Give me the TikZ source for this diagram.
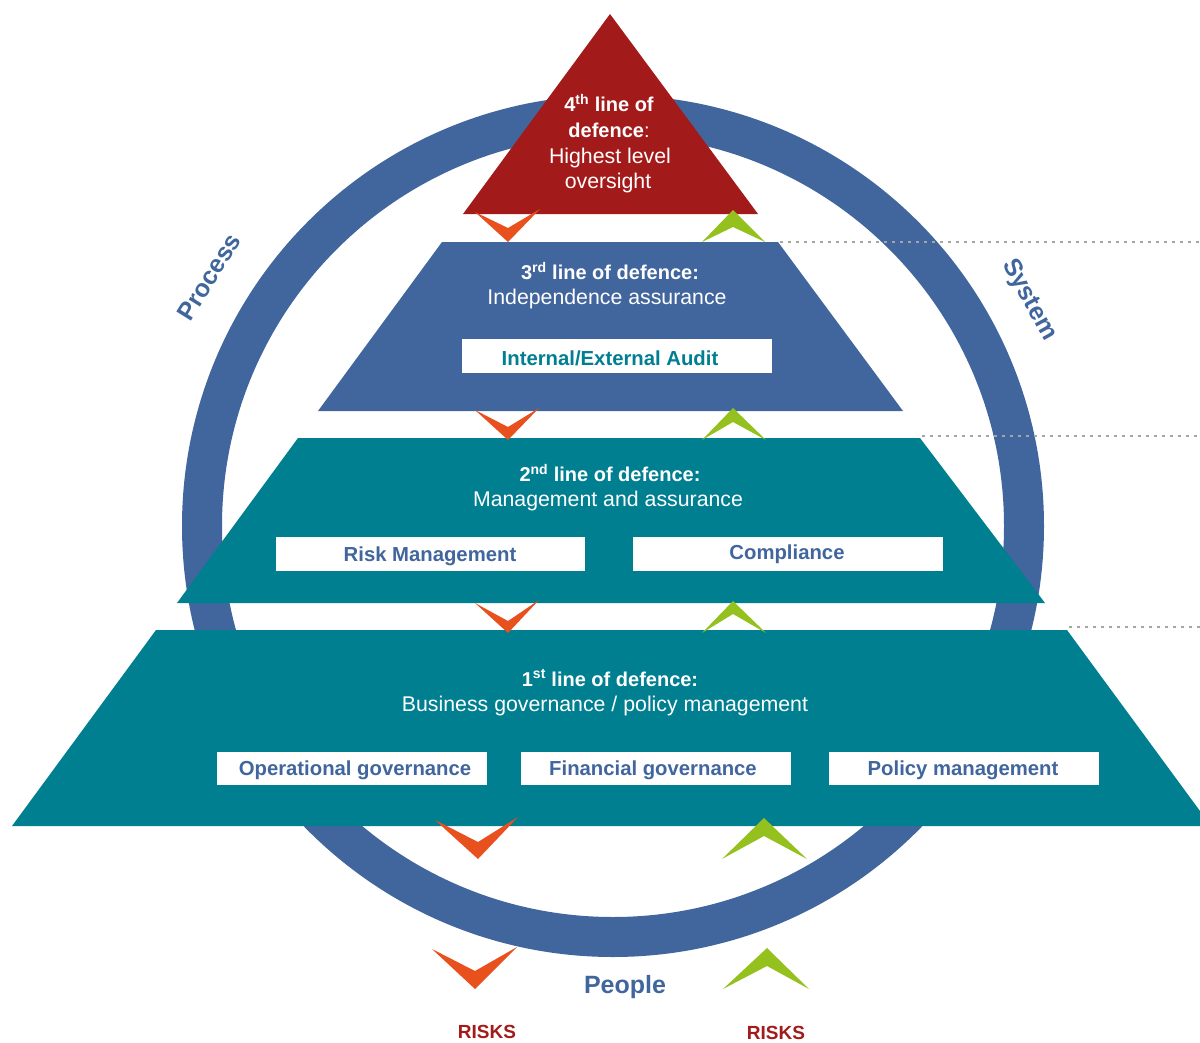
\documentclass[tikz,border=0pt]{standalone}
\usepackage{fontspec}
\setmainfont{Liberation Sans}
\definecolor{ringblue}{RGB}{65,102,157}
\definecolor{tealc}{RGB}{0,127,145}
\definecolor{darkredc}{RGB}{163,26,26}
\definecolor{orangec}{RGB}{232,80,30}
\definecolor{greenc}{RGB}{149,193,31}
\definecolor{dotgray}{RGB}{165,165,165}
\begin{document}
\begin{tikzpicture}[x=1pt,y=-1pt,
  title/.style={text=white,font=\fontsize{20}{24}\selectfont\bfseries,inner sep=0},
  sub/.style={text=white,font=\fontsize{21.3}{25}\selectfont,inner sep=0},
  boxtxt/.style={font=\fontsize{20.3}{24}\selectfont\bfseries,inner sep=0},
  wbox/.style={fill=white,draw=none},
  dotline/.style={dotgray,line width=2.6pt,dash pattern=on 2.6pt off 5.4pt},
  chevdown/.style={fill=orangec},
  chevup/.style={fill=greenc},
  ringlabel/.style={text=ringblue,font=\fontsize{25}{29}\selectfont\bfseries,inner sep=0},
  risk/.style={text=darkredc,font=\fontsize{19}{23}\selectfont\bfseries,inner sep=0}
]
\useasboundingbox (0,0) rectangle (1200,1042);
\clip (0,0) rectangle (1200,1042);
% ring
\draw[ringblue,line width=40pt] (613,526) circle (411);
% dotted lines
\draw[dotline] (780,242) -- (1200,242);
\draw[dotline] (922,436) -- (1200,436);
\draw[dotline] (1069,627) -- (1200,627);
% pyramid
\fill[darkredc] (610,14) -- (758,214) -- (463,214) -- cycle;
\fill[ringblue] (442,242) -- (778,242) -- (903,411) -- (318,411) -- cycle;
\fill[tealc] (298,438) -- (920,438) -- (1045,603) -- (177,603) -- cycle;
\fill[tealc] (156,630) -- (1067,630) -- (1211,826) -- (12,826) -- cycle;
% white boxes
\fill[wbox] (462,339) rectangle (772,373);
\fill[wbox] (276,537) rectangle (585,571);
\fill[wbox] (633,537) rectangle (943,571);
\fill[wbox] (217,752) rectangle (487,785);
\fill[wbox] (521,752) rectangle (791,785);
\fill[wbox] (829,752) rectangle (1099,785);
% texts
\node[title] (t4a) at (609,103) {4\textsuperscript{th} line of};
\node[title] (t4b) at (609,130) {defence\textmd{:}};
\node[sub] (t4c) at (610,158) {Highest level};
\node[sub] (t4d) at (608,183) {oversight};
\node[title] (t3a) at (610,271) {3\textsuperscript{rd} line of defence:};
\node[sub] (t3b) at (607,299) {Independence assurance};
\node[boxtxt,text=tealc] (b3) at (610,358) {Internal/External Audit};
\node[title] (t2a) at (610,473) {2\textsuperscript{nd} line of defence:};
\node[sub] (t2b) at (608,501) {Management and assurance};
\node[boxtxt,text=ringblue] (b21) at (430,556) {Risk Management};
\node[boxtxt,text=ringblue] (b22) at (787,554) {Compliance};
\node[title] (t1a) at (610,678) {1\textsuperscript{st} line of defence:};
\node[sub] (t1b) at (605,706) {Business governance / policy management};
\node[boxtxt,text=ringblue] (b11) at (355,770) {Operational governance};
\node[boxtxt,text=ringblue] (b12) at (653,770) {Financial governance};
\node[boxtxt,text=ringblue] (b13) at (963,770) {Policy management};
% ring labels
\node[ringlabel,rotate=58] (proc) at (209,277) {Process};
\node[ringlabel,rotate=-61] (sys) at (1029,300) {System};
\node[ringlabel] (ppl) at (625,987) {People};
\node[risk] (r1) at (487,1032) {RISKS};
\node[risk] (r2) at (776,1033) {RISKS};
% chevrons
\fill[chevdown] (475,212) -- (508,228) -- (540,209) -- (508,242) -- cycle;
\fill[chevup] (702,242) -- (733,227) -- (765,242) -- (733,210) -- cycle;
\fill[chevdown] (475,410) -- (508,427) -- (539,408) -- (508,440) -- cycle;
\fill[chevup] (702,440) -- (733,422) -- (766,440) -- (733,408) -- cycle;
\fill[chevdown] (475,603) -- (508,621) -- (539,600) -- (508,633) -- cycle;
\fill[chevup] (702,633) -- (733,614) -- (766,633) -- (733,601) -- cycle;
\fill[chevdown] (435,820) -- (478,842) -- (518,817) -- (478,859) -- cycle;
\fill[chevup] (722,859) -- (764,836) -- (807,859) -- (764,818) -- cycle;
\fill[chevdown] (432,949) -- (475,971) -- (517,947) -- (475,989) -- cycle;
\fill[chevup] (723,989) -- (767,966) -- (809,989) -- (767,948) -- cycle;
\end{tikzpicture}
\end{document}
